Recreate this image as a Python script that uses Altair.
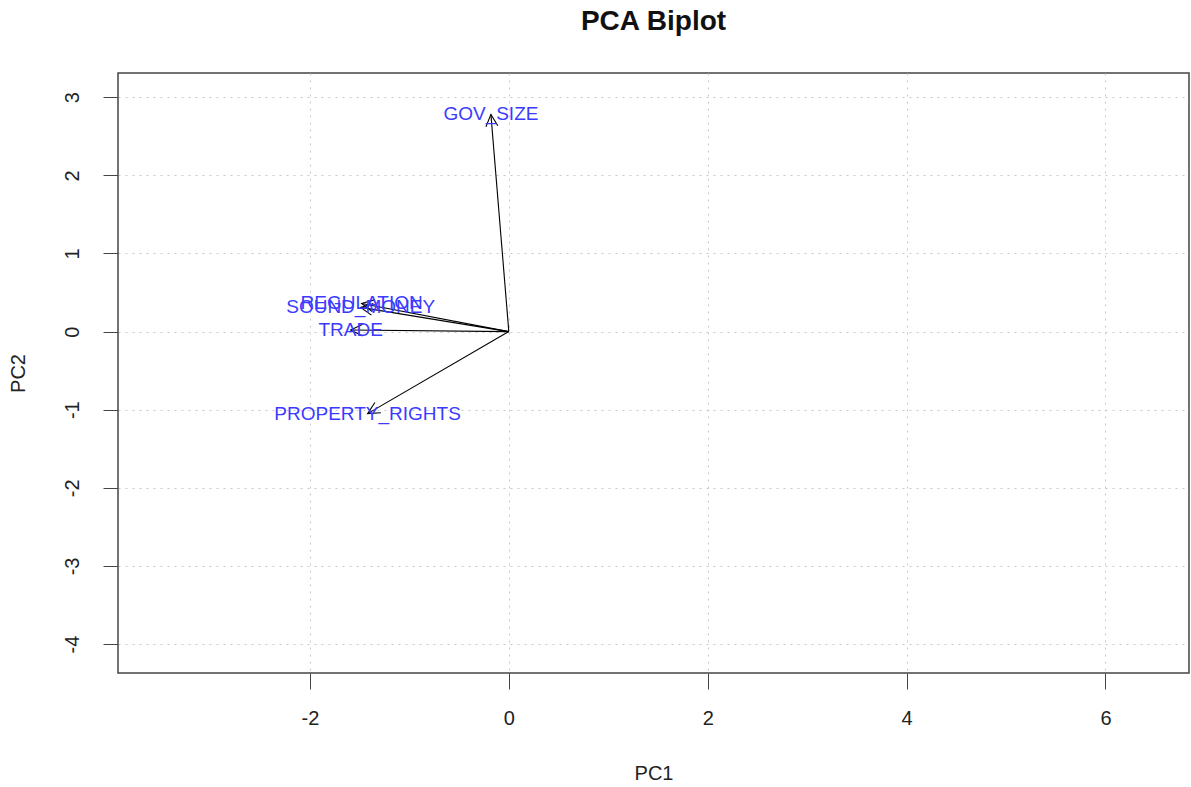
import altair as alt
import pandas as pd

# Loadings (arrow tips)
variables = ["GOV_SIZE", "REGULATION", "SOUND_MONEY", "TRADE", "PROPERTY_RIGHTS"]
pc1 = [-0.18, -1.48, -1.49, -1.59, -1.42]
pc2 = [2.78, 0.36, 0.31, 0.02, -1.05]

x_ticks = [-2, 0, 2, 4, 6]
y_ticks = [-4, -3, -2, -1, 0, 1, 2, 3]
x_domain = [-3.93, 6.84]
y_domain = [-4.37, 3.31]

W, H = 1071, 600
SX = W / (x_domain[1] - x_domain[0])
SY = H / (y_domain[1] - y_domain[0])

df = pd.DataFrame({"var": variables, "pc1": pc1, "pc2": pc2})
df["ox"] = 0.0
df["oy"] = 0.0

FONT = "Liberation Sans"

xs = alt.Scale(domain=x_domain, nice=False, zero=False)
ys = alt.Scale(domain=y_domain, nice=False, zero=False)

x_axis = alt.Axis(values=x_ticks, title="PC1", grid=True, gridDash=[2, 5], gridColor="#c8c8c8",
                  domain=False, tickSize=16, tickColor="#444444", labelFontSize=20,
                  labelFont=FONT, labelColor="#222222", labelPadding=19, titleFont=FONT,
                  labelExpr="toString(datum.value)",
                  titleFontSize=20, titleFontWeight="normal", titleColor="#222222",
                  titlePadding=35)
y_axis = alt.Axis(values=y_ticks, title="PC2", grid=True, gridDash=[2, 5], gridColor="#c8c8c8",
                  domain=False, tickSize=15, tickColor="#444444", labelFontSize=20,
                  labelFont=FONT, labelColor="#222222", labelAngle=270, labelAlign="center",
                  labelExpr="toString(datum.value)",
                  labelBaseline="bottom", labelPadding=21, titleFont=FONT, titleFontSize=20,
                  titleFontWeight="normal", titleColor="#222222", titlePadding=34)

base = alt.Chart(df)

lines = base.mark_rule(color="black", strokeWidth=1.1).encode(
    x=alt.X("ox:Q", scale=xs, axis=x_axis),
    y=alt.Y("oy:Q", scale=ys, axis=y_axis),
    x2="pc1:Q",
    y2="pc2:Q",
)

heads = base.transform_calculate(
    ang=f"(atan2(datum.pc1*{SX}, datum.pc2*{SY})*180/PI + 360) % 360"
).mark_point(
    shape="M-0.45,0.9L0,0L0.45,0.9", filled=False, color="black", strokeWidth=1.1, opacity=1
).encode(
    x=alt.X("pc1:Q", scale=xs),
    y=alt.Y("pc2:Q", scale=ys),
    angle=alt.Angle("ang:Q", scale=None),
    size=alt.value(700),
)

labels = base.mark_text(font=FONT, fontSize=19, color="#3b3bff", align="center",
                        baseline="middle").encode(
    x=alt.X("pc1:Q", scale=xs),
    y=alt.Y("pc2:Q", scale=ys),
    text="var:N",
)

chart = alt.layer(lines, heads, labels).properties(
    width=W, height=H,
    title=alt.TitleParams("PCA Biplot", font=FONT, fontSize=28, fontWeight="bold",
                          color="#111111", anchor="middle", offset=37),
    autosize=alt.AutoSizeParams(type="none"),
    padding={"left": 118, "top": 73, "right": 2, "bottom": 114},
    view=alt.ViewBackground(stroke="#444444", strokeWidth=1.5, fill="white"),
).configure(background="white")

chart.save("out.html", embed_options={"renderer": "svg", "actions": False})
